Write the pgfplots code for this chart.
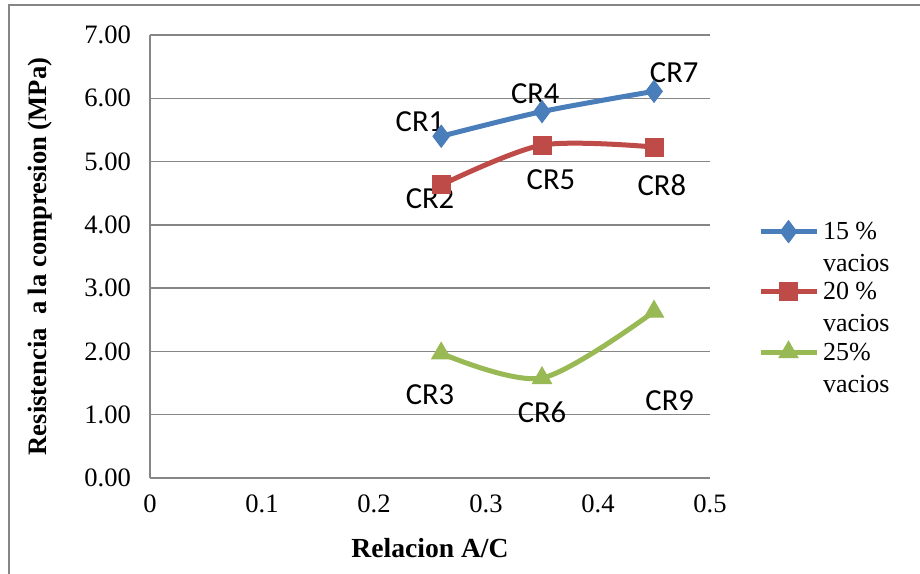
\documentclass[border=0pt]{standalone}
\usepackage{pgfplots}
\pgfplotsset{compat=1.18}
\usepackage{fontspec}
\setmainfont{Liberation Serif}
\newfontfamily\calibri{Carlito}
\definecolor{cblue}{HTML}{4A7EBB}
\definecolor{cred}{HTML}{BE4B48}
\definecolor{cgreen}{HTML}{98B954}
\definecolor{cgrid}{HTML}{868686}
\begin{document}
\begin{tikzpicture}
\path[use as bounding box] (-75pt,-47.5pt) rectangle (385pt,239pt);
\draw[cgrid, line width=1pt] (-70.25pt,-60pt) -- (-70.25pt,236.25pt) -- (400pt,236.25pt);
\begin{axis}[
  at={(0,0)}, anchor=origin,
  scale only axis, width=280pt, height=221.5pt,
  xmin=0, xmax=0.5, ymin=0, ymax=7,
  axis lines*=left,
  axis line style={cgrid, line width=0.75pt},
  xtick={0,0.1,0.2,0.3,0.4,0.5},
  xticklabels={0,0.1,0.2,0.3,0.4,0.5},
  ytick={0,1,...,7},
  major tick length=0pt,
  ymajorgrids, grid style={cgrid, line width=0.75pt},
  /pgf/number format/assume math mode=true,
  ticklabel style={font=\fontsize{13.3}{15}\selectfont},
  yticklabel style={xshift=-6pt, /pgf/number format/.cd, fixed, fixed zerofill, precision=2},
  xticklabel style={yshift=-5pt},
  xlabel={Relacion A/C},
  ylabel={Resistencia\ \ a la compresion (MPa)},
  xlabel style={font=\fontsize{13.8}{15}\selectfont\bfseries, at={(axis description cs:0.5,-0.158)}, anchor=center},
  ylabel style={font=\fontsize{13.3}{15}\selectfont\bfseries, at={(axis description cs:-0.196,0.5)}, anchor=center},
  clip=false,
  legend style={draw=none, fill=none, at={(axis description cs:1.085,0.587)}, anchor=north west,
    font=\fontsize{13}{16}\selectfont, align=left, row sep=0pt, inner sep=0pt,
    cells={anchor=base west}},
  legend image code/.code={\draw[mark repeat=2,mark phase=2,yshift=20pt,#1] plot coordinates {(0pt,0pt) (14pt,0pt) (28pt,0pt)};},
]
\addplot[cblue, line width=2.5pt, smooth, tension=0.5, mark=diamond*, mark size=5.5pt, mark options={solid, line width=0.5pt}]
  coordinates {(0.26,5.40) (0.35,5.79) (0.45,6.11)};
\addplot[cred, line width=2.5pt, smooth, tension=0.5, mark=square*, mark size=4.5pt, mark options={solid, line width=0.5pt}]
  coordinates {(0.26,4.63) (0.35,5.26) (0.45,5.23)};
\addplot[cgreen, line width=2.5pt, smooth, tension=0.5, mark=triangle*, mark size=5.5pt, mark options={solid, line width=0.5pt}]
  coordinates {(0.26,1.97) (0.35,1.58) (0.45,2.63)};
\legend{15 \%\\vacios, 20 \%\\vacios, 25\%\\vacios}
\begin{scope}[every node/.style={font=\calibri\fontsize{15.3}{16}\selectfont}]
\node at (axis cs:0.241,5.625) {CR1};
\node at (axis cs:0.344,6.07) {CR4};
\node at (axis cs:0.468,6.41) {CR7};
\node at (axis cs:0.250,4.42) {CR2};
\node at (axis cs:0.358,4.71) {CR5};
\node at (axis cs:0.457,4.63) {CR8};
\node at (axis cs:0.250,1.31) {CR3};
\node at (axis cs:0.350,1.04) {CR6};
\node at (axis cs:0.464,1.22) {CR9};
\end{scope}
\end{axis}
\end{tikzpicture}
\end{document}
